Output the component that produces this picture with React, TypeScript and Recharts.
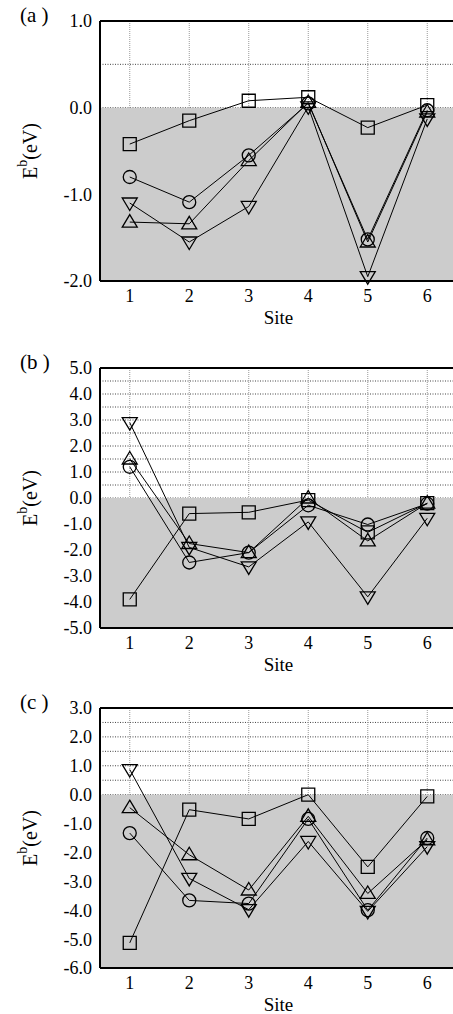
import React from 'react';
import { LineChart, Line, XAxis, YAxis, CartesianGrid, ReferenceArea, ReferenceLine } from 'recharts';

const sites = [1, 2, 3, 4, 5, 6];

// panel (a)
const aSquare = [-0.42, -0.15, 0.08, 0.12, -0.23, 0.03];
const aCircle = [-0.8, -1.09, -0.55, 0.05, -1.52, -0.03];
const aUp = [-1.32, -1.34, -0.61, 0.06, -1.55, -0.05];
const aDown = [-1.1, -1.55, -1.14, 0.01, -1.95, -0.13];
const aTicks = [-2, -1.5, -1, -0.5, 0, 0.5, 1];

// panel (b)
const bSquare = [-3.9, -0.6, -0.55, -0.08, -1.32, -0.2];
const bCircle = [1.2, -2.48, -2.1, -0.28, -1.02, -0.22];
const bUp = [1.5, -1.75, -2.1, 0.0, -1.65, -0.2];
const bDown = [2.9, -1.9, -2.65, -0.92, -3.8, -0.78];
const bTicks = [-5, -4.5, -4, -3.5, -3, -2.5, -2, -1.5, -1, -0.5, 0, 0.5, 1, 1.5, 2, 2.5, 3, 3.5, 4, 4.5, 5];

// panel (c)
const cSquare = [-5.13, -0.52, -0.84, 0.0, -2.5, -0.06];
const cCircle = [-1.33, -3.66, -3.77, -0.84, -4.0, -1.5];
const cUp = [-0.45, -2.08, -3.3, -0.75, -3.42, -1.56];
const cDown = [0.87, -2.9, -3.98, -1.62, -4.04, -1.8];
const cTicks = [-6, -5.5, -5, -4.5, -4, -3.5, -3, -2.5, -2, -1.5, -1, -0.5, 0, 0.5, 1, 1.5, 2, 2.5, 3];

const serif = "'Liberation Serif', 'Times New Roman', serif";

const makeRows = (sq: number[], ci: number[], up: number[], dn: number[]) =>
  sites.map((s, i) => ({ site: s, square: sq[i], circle: ci[i], up: up[i], down: dn[i] }));

const markerPath = (shape: string, x: number, y: number) => {
  if (shape === 'square') return `M${x - 6.5},${y - 6.5}h13v13h-13Z`;
  if (shape === 'up') return `M${x},${y - 7.5}L${x + 7.5},${y + 5}L${x - 7.5},${y + 5}Z`;
  if (shape === 'down') return `M${x},${y + 7.5}L${x + 7.5},${y - 5}L${x - 7.5},${y - 5}Z`;
  return `M${x - 6.5},${y}a6.5,6.5 0 1,0 13,0a6.5,6.5 0 1,0 -13,0`;
};

const dotFor = (shape: string) => (props: any) => {
  const { cx, cy, index } = props;
  if (cx == null || cy == null) return <g key={`${shape}-${index}`} />;
  return (
    <path key={`${shape}-${index}`} d={markerPath(shape, cx, cy)} fill="none" stroke="#000" strokeWidth={1.3} />
  );
};

const YLabel = (props: any) => {
  const { viewBox } = props;
  const cx = 30;
  const cy = viewBox.y + viewBox.height / 2;
  return (
    <text x={cx} y={cy} transform={`rotate(-90 ${cx} ${cy})`} textAnchor="middle" dominantBaseline="central"
      fontFamily={serif} style={{ fontFamily: serif, fontSize: 20 }} fill="#000">
      E<tspan style={{ fontSize: 14 }} dy={-8}>b</tspan><tspan dy={8}>(eV)</tspan>
    </text>
  );
};

const XLabel = (props: any) => {
  const { viewBox } = props;
  return (
    <text x={viewBox.x + viewBox.width / 2} y={viewBox.y + 43} textAnchor="middle"
      fontFamily={serif} style={{ fontFamily: serif, fontSize: 19 }} fill="#000">Site</text>
  );
};

const fmt = (v: number) => (Number.isInteger(v) ? v.toFixed(1) : '');

const tickStyle = { fill: '#000', fontSize: 18, fontFamily: serif, style: { fontFamily: serif } };

interface PanelProps {
  tag: string;
  top: number;
  rows: any[];
  ticks: number[];
}

const Panel = ({ tag, top, rows, ticks }: PanelProps) => {
  const lo = ticks[0];
  const hi = ticks[ticks.length - 1];
  return (
    <div style={{ position: 'absolute', left: 0, top }}>
      <div style={{ position: 'absolute', left: 20, top: 4, fontSize: 21, lineHeight: '22px', whiteSpace: 'pre' }}>
        {tag}
      </div>
      <LineChart width={457} height={330} data={rows} margin={{ top: 21, right: 0, left: 0, bottom: 0 }}
        style={{ fontFamily: serif }}>
        <ReferenceArea y1={lo} y2={0} fill="#cccccc" fillOpacity={1} stroke="none" />
        <CartesianGrid vertical={false} stroke="#444" strokeDasharray="1 1.5" />
        <CartesianGrid horizontal={false} stroke="#999" strokeDasharray="1 1" />
        <ReferenceLine y={hi} stroke="#000" strokeWidth={2} />
        <XAxis dataKey="site" type="number" domain={[0.5, 6.5]} ticks={sites} interval={0}
          tickLine={false} axisLine={{ stroke: '#000', strokeWidth: 2 }} height={49}
          tick={tickStyle} label={<XLabel />} />
        <YAxis type="number" domain={[lo, hi]} ticks={ticks} interval={0} tickFormatter={fmt}
          tickLine={false} axisLine={{ stroke: '#000', strokeWidth: 2 }} width={100}
          tick={tickStyle} label={<YLabel />} />
        <Line type="linear" dataKey="square" stroke="#000" strokeWidth={1} dot={dotFor('square')} isAnimationActive={false} />
        <Line type="linear" dataKey="circle" stroke="#000" strokeWidth={1} dot={dotFor('circle')} isAnimationActive={false} />
        <Line type="linear" dataKey="up" stroke="#000" strokeWidth={1} dot={dotFor('up')} isAnimationActive={false} />
        <Line type="linear" dataKey="down" stroke="#000" strokeWidth={1} dot={dotFor('down')} isAnimationActive={false} />
      </LineChart>
    </div>
  );
};

export default function App() {
  return (
    <div style={{ position: 'absolute', left: 0, top: 0, width: 453, height: 1014, overflow: 'hidden', background: '#fff', fontFamily: serif }}>
      <Panel tag="(a )" top={0} rows={makeRows(aSquare, aCircle, aUp, aDown)} ticks={aTicks} />
      <Panel tag="(b )" top={347} rows={makeRows(bSquare, bCircle, bUp, bDown)} ticks={bTicks} />
      <Panel tag="(c )" top={687} rows={makeRows(cSquare, cCircle, cUp, cDown)} ticks={cTicks} />
    </div>
  );
}
